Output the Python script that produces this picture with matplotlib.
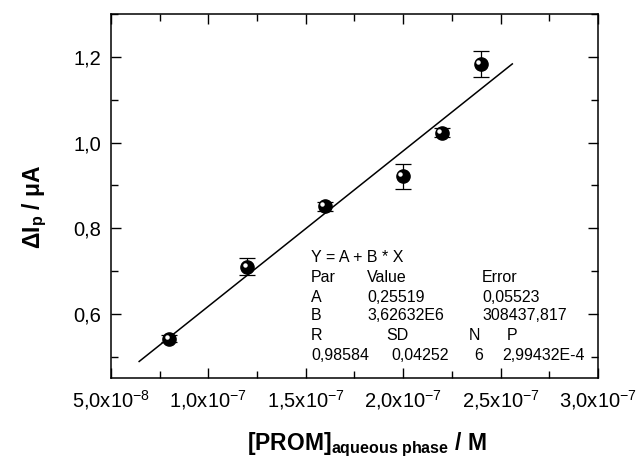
import numpy as np
import matplotlib
matplotlib.use("Agg")
import matplotlib.pyplot as plt
import matplotlib.transforms as mtransforms

plt.rcParams['font.family'] = ['Liberation Sans', 'DejaVu Sans']
plt.rcParams['mathtext.fontset'] = 'custom'
plt.rcParams['mathtext.rm'] = 'Liberation Sans'
plt.rcParams['mathtext.bf'] = 'Liberation Sans:bold'
plt.rcParams['mathtext.it'] = 'Liberation Sans:italic'

# data
conc = [8.0e-8, 1.2e-7, 1.6e-7, 2.0e-7, 2.2e-7, 2.4e-7]
delta_ip = [0.542, 0.710, 0.851, 0.921, 1.023, 1.183]
err = [0.008, 0.020, 0.010, 0.030, 0.010, 0.030]

# linear fit parameters as printed
fit_A = 0.25519
fit_B = 3.62632e6
fit_xrange = [6.45e-8, 2.56e-7]

xticks = [5e-8, 1e-7, 1.5e-7, 2e-7, 2.5e-7, 3e-7]
xticklabels = [r"5,0x10$^{-8}$", r"1,0x10$^{-7}$", r"1,5x10$^{-7}$",
               r"2,0x10$^{-7}$", r"2,5x10$^{-7}$", r"3,0x10$^{-7}$"]
yticks = [0.6, 0.8, 1.0, 1.2]
yticklabels = ["0,6", "0,8", "1,0", "1,2"]

fig = plt.figure(figsize=(6.41, 4.59), dpi=100)
ax = fig.add_axes([0.173, 0.176, 0.760, 0.7935])

# fit line
xf = np.array(fit_xrange)
ax.plot(xf, fit_A + fit_B * xf, color="black", lw=1.1)

# points with error bars
ax.errorbar(conc, delta_ip, yerr=err, fmt="o", color="black", ms=9.5,
            capsize=5.5, elinewidth=0.9, capthick=0.9, zorder=3)
# little highlight on the spheres
hl = mtransforms.offset_copy(ax.transData, fig=fig, x=-2, y=1.5, units="points")
ax.plot(conc, delta_ip, "o", color="white", ms=2.2, transform=hl, zorder=4)

ax.set_xlim(5e-8, 3e-7)
ax.set_ylim(0.45, 1.3)
ax.set_xticks(xticks)
ax.set_xticklabels(xticklabels, fontsize=14.5)
ax.set_xticks(np.arange(7.5e-8, 3e-7, 5e-8), minor=True)
ax.set_yticks(yticks)
ax.set_yticklabels(yticklabels, fontsize=14.5)
ax.set_yticks([0.5, 0.7, 0.9, 1.1, 1.3], minor=True)
ax.tick_params(which="both", direction="in", top=True, right=True, width=1)
ax.tick_params(which="major", length=7, pad=7)
ax.tick_params(which="minor", length=5)
for s in ax.spines.values():
    s.set_linewidth(1.1)

ax.set_xlabel(r"[PROM]$_{\mathbf{aqueous\ phase}}$ / M", fontsize=16.5,
              fontweight="bold")
ax.xaxis.set_label_coords(0.526, -0.143)
ax.set_ylabel(r"$\mathbf{\Delta I_p}$ / $\mathbf{\mu}$A", fontsize=16.5,
              fontweight="bold")
ax.yaxis.set_label_coords(-0.128, 0.47)

# fit results box
fs = 11.5
def put(px, py, s):
    fig.text(px / 641, 1 - py / 459, s, fontsize=fs, va="center", ha="left")

put(311, 258, "Y = A + B * X")
put(311, 277, "Par")
put(367, 277, "Value")
put(482, 277, "Error")
put(311, 297, "A")
put(367, 297, "0,25519")
put(482, 297, "0,05523")
put(311, 316, "B")
put(367, 316, "3,62632E6")
put(482, 316, "308437,817")
put(311, 336, "R")
put(386, 336, "SD")
put(469, 336, "N")
put(507, 336, "P")
put(311, 355, "0,98584")
put(391, 355, "0,04252")
put(474, 355, "6")
put(502, 355, "2,99432E-4")

fig.savefig("out.png", dpi=100)
